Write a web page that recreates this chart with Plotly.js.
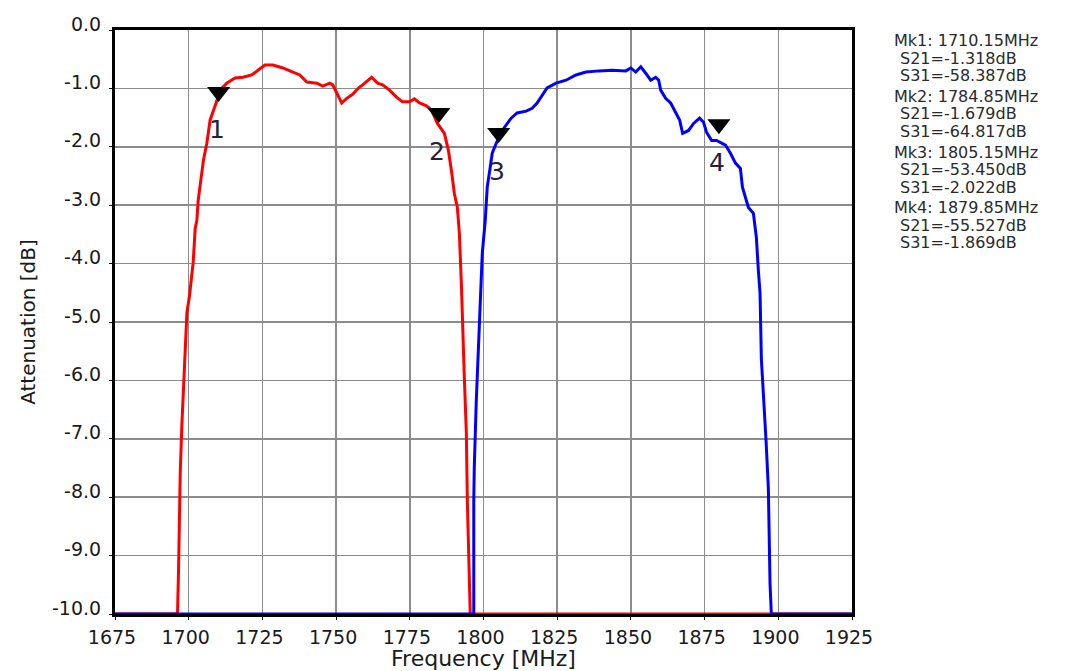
<!DOCTYPE html>
<html>
<head>
<meta charset="utf-8">
<script src="https://cdn.plot.ly/plotly-3.0.1.min.js"></script>
<style>html,body{margin:0;padding:0;background:#fff;}#chart{width:1068px;height:671px;}</style>
</head>
<body>
<div id="chart"></div>
<script>
// S21 (red) trace, MHz / dB
const redFreq = [1675, 1696.2, 1696.55, 1697.13, 1697.7, 1698.24, 1698.82, 1699.39, 1700.27, 1700.85, 1701.52, 1702.2, 1702.77, 1703.21, 1703.89, 1705.0, 1706.15, 1707.27, 1709.3, 1710.65, 1712.92, 1715.72, 1718.43, 1721.37, 1723.5, 1725.87, 1728.57, 1731.95, 1735.33, 1737.7, 1740.07, 1743.45, 1745.48, 1747.85, 1748.86, 1750.55, 1751.9, 1753.6, 1755.62, 1757.65, 1759.0, 1762.05, 1764.07, 1765.77, 1768.13, 1770.5, 1772.53, 1774.9, 1776.59, 1778.28, 1780.65, 1782.34, 1784.37, 1786.74, 1788.09, 1789.1, 1790.12, 1791.13, 1791.81, 1792.49, 1792.83, 1793.5, 1794.18, 1794.52, 1795.5, 1925];
const redDb = [-10, -10, -9.26, -7.58, -6.74, -6.09, -5.57, -4.84, -4.55, -4.25, -3.98, -3.40, -3.26, -2.92, -2.69, -2.23, -1.94, -1.54, -1.25, -1.03, -0.91, -0.82, -0.81, -0.77, -0.69, -0.60, -0.60, -0.65, -0.72, -0.77, -0.89, -0.91, -0.96, -0.91, -0.94, -1.11, -1.25, -1.17, -1.10, -0.99, -0.94, -0.81, -0.91, -0.94, -1.03, -1.15, -1.23, -1.23, -1.18, -1.25, -1.30, -1.37, -1.60, -1.77, -2.06, -2.40, -2.80, -3.04, -3.48, -4.34, -5.06, -5.95, -6.91, -8.06, -10, -10];

// S31 (blue) trace
const blueFreq = [1675, 1796.7, 1796.7, 1796.87, 1797.55, 1798.23, 1798.9, 1799.58, 1800.59, 1801.27, 1802.28, 1802.96, 1804.31, 1806.34, 1809.38, 1811.41, 1814.46, 1816.49, 1818.18, 1819.87, 1821.56, 1824.61, 1827.99, 1831.37, 1834.75, 1839.15, 1843.54, 1848.27, 1849.96, 1851.65, 1853.34, 1855.03, 1856.72, 1858.41, 1859.43, 1860.1, 1861.79, 1863.48, 1865.17, 1866.53, 1867.54, 1869.57, 1871.26, 1873.29, 1874.64, 1875.66, 1877.35, 1879.04, 1882.08, 1883.77, 1885.46, 1887.15, 1887.83, 1889.86, 1891.55, 1892.56, 1893.24, 1893.81, 1894.25, 1895.17, 1895.84, 1896.62, 1897.2, 1897.64, 1925];
const blueDb = [-10, -10, -8.06, -7.50, -6.35, -5.54, -4.89, -3.83, -3.26, -2.69, -2.35, -2.11, -1.94, -1.72, -1.51, -1.42, -1.39, -1.34, -1.25, -1.11, -0.99, -0.91, -0.86, -0.77, -0.72, -0.70, -0.69, -0.70, -0.65, -0.72, -0.63, -0.74, -0.86, -0.81, -0.86, -1.03, -1.17, -1.25, -1.41, -1.54, -1.77, -1.72, -1.60, -1.51, -1.58, -1.75, -1.89, -1.89, -1.97, -2.11, -2.28, -2.37, -2.69, -3.04, -3.14, -3.55, -4.12, -4.51, -5.63, -6.35, -7.03, -7.84, -9.49, -10, -10];

// markers
const markerNames = ['1', '2', '3', '4'];
const markerFreq = [1710.15, 1784.85, 1805.15, 1879.85];
const markerDb = [-1.318, -1.679, -2.022, -1.869];
const markerS21 = [-1.318, -1.679, -53.450, -55.527];
const markerS31 = [-58.387, -64.817, -2.022, -1.869];

// axes
const xTickVals = [1675, 1700, 1725, 1750, 1775, 1800, 1825, 1850, 1875, 1900, 1925];
const yTickVals = [0, -1, -2, -3, -4, -5, -6, -7, -8, -9, -10];
const yTickText = ['0.0', '-1.0', '-2.0', '-3.0', '-4.0', '-5.0', '-6.0', '-7.0', '-8.0', '-9.0', '-10.0'];

const W = 1068, H = 671;
const M = {l: 115, r: 216, t: 30, b: 57};
const plotH = H - M.t - M.b;
const pxPerDb = plotH / 10;
const triSize = 20;
const triLift = (triSize / 2 + 5) / pxPerDb; // tip sits ~5px above the point

const FONT = 'DejaVu Sans, Arial, sans-serif';

const traces = [
  {x: redFreq, y: redDb, type: 'scatter', mode: 'lines', line: {color: '#ff0000', width: 3}, cliponaxis: false, hoverinfo: 'skip'},
  {x: blueFreq, y: blueDb, type: 'scatter', mode: 'lines', line: {color: '#0000ff', width: 3}, cliponaxis: false, hoverinfo: 'skip'},
  {x: markerFreq, y: markerDb.map(v => v + triLift), type: 'scatter', mode: 'markers',
   marker: {symbol: 'triangle-down', size: triSize, color: '#000'}, cliponaxis: false, hoverinfo: 'skip'}
];

const annotations = [];
markerNames.forEach((n, i) => {
  annotations.push({x: markerFreq[i], y: markerDb[i], xref: 'x', yref: 'y', text: n, showarrow: false,
    xanchor: 'center', yanchor: 'middle', xshift: -2, yshift: -23,
    font: {family: FONT, size: 25, color: '#1f2340'}});
});
const groupStep = 55.8, lineStep = 17.5, firstY = 40.5;
markerNames.forEach((n, i) => {
  const lines = [
    'Mk' + n + ': ' + markerFreq[i].toFixed(2) + 'MHz',
    'S21=' + markerS21[i].toFixed(3) + 'dB',
    'S31=' + markerS31[i].toFixed(3) + 'dB'
  ];
  lines.forEach((t, j) => {
    const cy = firstY + i * groupStep + j * lineStep;
    annotations.push({xref: 'paper', yref: 'paper', x: 1, y: 1, text: t, showarrow: false,
      xanchor: 'left', yanchor: 'middle', xshift: (j === 0 ? 40 : 46), yshift: -(cy - M.t),
      font: {family: FONT, size: 16, color: '#2a2a2a'}});
  });
});

const layout = {
  width: W, height: H,
  margin: M,
  paper_bgcolor: '#fff', plot_bgcolor: '#fff',
  showlegend: false,
  xaxis: {
    range: [1675, 1925], tickvals: xTickVals, ticktext: xTickVals.map(String),
    showgrid: true, gridcolor: '#8c8c8c', gridwidth: 1.5,
    showline: true, linecolor: '#000', linewidth: 3, mirror: true,
    ticks: 'outside', ticklen: 3, tickcolor: '#000', ticklabelstandoff: 1, ticklabelshift: -3,
    zeroline: false, layer: 'below traces',
    tickfont: {family: FONT, size: 19, color: '#1a1a1a'},
    title: {text: 'Frequency [MHz]', standoff: 3, font: {family: FONT, size: 22, color: '#1a1a1a'}}
  },
  yaxis: {
    range: [-10, 0], tickvals: yTickVals, ticktext: yTickText,
    showgrid: true, gridcolor: '#8c8c8c', gridwidth: 1.5,
    showline: true, linecolor: '#000', linewidth: 3, mirror: true,
    ticks: 'outside', ticklen: 3, tickcolor: '#000', ticklabelshift: -6, ticklabelstandoff: 4,
    zeroline: false, layer: 'below traces',
    tickfont: {family: FONT, size: 19, color: '#1a1a1a'},
    title: {text: 'Attenuation [dB]', standoff: 12, font: {family: FONT, size: 20, color: '#1a1a1a'}}
  },
  annotations: annotations
};

Plotly.newPlot('chart', traces, layout, {displayModeBar: false, staticPlot: true});
</script>
</body>
</html>
